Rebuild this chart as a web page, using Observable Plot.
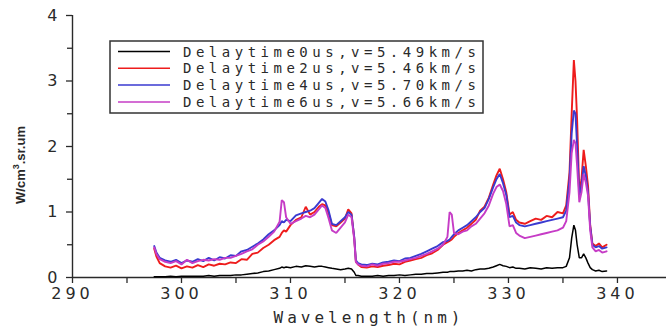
<!DOCTYPE html>
<html><head><meta charset="utf-8">
<script src="https://cdn.jsdelivr.net/npm/d3@7"></script>
<script src="https://cdn.jsdelivr.net/npm/@observablehq/plot@0.6"></script>
<style>
body{margin:0;background:#fff}
#chart{position:relative;width:666px;height:330px}
g[aria-label="x-axis tick label"] text{letter-spacing:4px}
</style>
</head><body><div id="chart"></div>
<script>
// Wavelength grid (nm) shared by all series
const wavelength = [297.5,297.7,298.0,298.5,299.0,299.5,300.0,300.5,301.0,301.5,
302.0,302.5,303.0,303.5,304.0,304.5,305.0,305.5,306.0,306.5,
307.0,307.5,308.0,308.5,309.0,309.2,309.4,309.6,310.0,310.5,
311.0,311.4,311.8,312.2,312.6,312.9,313.2,313.5,313.8,314.2,
314.6,315.0,315.3,315.6,315.85,316.0,316.2,316.5,317.0,317.5,
318.0,318.5,319.0,319.5,320.0,320.5,321.0,321.5,322.0,322.5,
323.0,323.5,324.0,324.4,324.6,324.8,325.0,325.4,325.8,326.2,
326.6,327.0,327.4,327.8,328.2,328.6,328.9,329.2,329.5,329.8,
330.1,330.4,330.7,331.0,331.5,332.0,332.5,333.0,333.5,334.0,
334.5,335.0,335.3,335.6,335.8,336.0,336.15,336.3,336.5,336.7,
336.9,337.1,337.3,337.5,337.7,338.0,338.3,338.6,339.0];

const delay0 = [0.01,0.01,0.01,0.01,0.02,0.01,0.02,0.02,0.02,0.02,
0.02,0.03,0.02,0.03,0.03,0.03,0.04,0.04,0.05,0.06,
0.07,0.09,0.10,0.12,0.14,0.16,0.15,0.16,0.15,0.17,
0.16,0.18,0.17,0.16,0.17,0.17,0.16,0.15,0.14,0.13,
0.12,0.13,0.14,0.13,0.08,0.03,0.03,0.02,0.02,0.02,
0.03,0.02,0.03,0.03,0.04,0.03,0.04,0.05,0.05,0.06,
0.06,0.07,0.08,0.08,0.09,0.09,0.09,0.10,0.10,0.11,
0.10,0.12,0.13,0.13,0.14,0.16,0.18,0.20,0.18,0.17,
0.15,0.16,0.14,0.14,0.13,0.15,0.14,0.13,0.15,0.14,
0.15,0.15,0.17,0.30,0.60,0.80,0.72,0.50,0.30,0.30,
0.36,0.30,0.22,0.15,0.12,0.10,0.11,0.09,0.10];

const delay2 = [0.44,0.32,0.22,0.17,0.15,0.18,0.14,0.17,0.15,0.19,
0.16,0.20,0.18,0.21,0.20,0.23,0.22,0.28,0.27,0.36,
0.38,0.45,0.50,0.57,0.62,0.68,0.72,0.70,0.80,0.88,
0.92,1.08,0.96,1.00,1.08,1.12,1.10,0.98,0.80,0.78,
0.84,0.90,1.04,0.98,0.60,0.24,0.20,0.16,0.15,0.17,
0.16,0.18,0.19,0.21,0.20,0.24,0.26,0.28,0.30,0.34,
0.37,0.42,0.50,0.54,0.56,0.58,0.62,0.68,0.72,0.76,
0.82,0.88,1.02,1.08,1.22,1.42,1.56,1.66,1.50,1.30,
0.96,1.00,0.88,0.84,0.82,0.86,0.90,0.88,0.94,0.92,
1.00,0.98,1.10,1.60,2.50,3.32,3.00,2.40,1.30,1.50,
1.95,1.70,1.40,0.80,0.52,0.48,0.52,0.46,0.50];

const delay4 = [0.48,0.38,0.30,0.26,0.24,0.27,0.22,0.26,0.24,0.28,
0.25,0.30,0.26,0.31,0.29,0.34,0.33,0.40,0.42,0.47,
0.52,0.58,0.66,0.72,0.80,0.86,0.84,0.88,0.86,0.95,
0.98,1.00,1.02,1.06,1.14,1.20,1.16,1.02,0.82,0.80,
0.86,0.92,1.00,0.96,0.62,0.26,0.22,0.20,0.19,0.21,
0.20,0.23,0.24,0.26,0.25,0.29,0.30,0.33,0.36,0.40,
0.44,0.48,0.54,0.56,0.58,0.62,0.66,0.72,0.76,0.80,
0.86,0.92,1.00,1.06,1.20,1.38,1.50,1.58,1.44,1.26,
0.92,0.94,0.84,0.80,0.78,0.80,0.82,0.84,0.86,0.88,
0.90,0.92,1.02,1.50,2.20,2.55,2.50,2.00,1.25,1.40,
1.70,1.55,1.30,0.78,0.50,0.46,0.48,0.44,0.46];

const delay6 = [0.46,0.36,0.28,0.24,0.22,0.25,0.20,0.27,0.22,0.25,
0.27,0.26,0.28,0.27,0.30,0.30,0.33,0.36,0.40,0.43,
0.50,0.55,0.62,0.70,0.85,1.18,1.15,0.92,0.82,0.86,
0.90,0.94,0.92,0.96,1.04,1.10,1.06,0.90,0.72,0.68,
0.76,0.84,0.96,0.92,0.58,0.24,0.20,0.18,0.17,0.20,
0.18,0.21,0.22,0.24,0.24,0.26,0.28,0.30,0.33,0.36,
0.40,0.44,0.50,0.62,1.00,0.96,0.68,0.66,0.70,0.72,
0.78,0.82,0.90,0.98,1.10,1.28,1.38,1.42,1.32,1.12,
0.78,0.80,0.68,0.64,0.60,0.62,0.64,0.66,0.68,0.70,
0.72,0.76,0.86,1.30,1.90,2.10,2.05,1.70,1.15,1.30,
1.58,1.45,1.25,0.72,0.46,0.40,0.42,0.38,0.40];

const seriesNames = ["Delaytime0us,v=5.49km/s","Delaytime2us,v=5.46km/s","Delaytime4us,v=5.70km/s","Delaytime6us,v=5.66km/s"];
const seriesColors = ["#000000","#ee1c1c","#3a3ad0","#c63cc6"];
const seriesValues = [delay0, delay2, delay4, delay6];

const xMajor = [290,300,310,320,330,340];
const xMinor = [295,305,315,325,335];
const yMajor = [0,1,2,3,4];
const yMinor = [0.5,1.5,2.5,3.5];
const xTitle = "Wavelength(nm)";

const lineMarks = seriesValues.map((vals, i) =>
  Plot.line(wavelength.map((w, j) => ({w, v: vals[j]})), {x: "w", y: "v", stroke: seriesColors[i], strokeWidth: i === 0 ? 1.5 : 1.9, strokeLinejoin: "miter"})
);

const chart = Plot.plot({
  width: 666, height: 330,
  marginLeft: 72, marginRight: 0, marginTop: 15, marginBottom: 53,
  style: {fontFamily: "DejaVu Sans", fontSize: "16px", color: "#2a2a2a", background: "#fff"},
  x: {domain: [290, 344.5]},
  y: {domain: [0, 4]},
  marks: [
    Plot.axisX({ticks: xMajor, tickSize: 6, tickPadding: 4, label: null, tickFormat: d => String(d), stroke: "#2a2a2a", strokeWidth: 1.3}),
    Plot.axisX({ticks: xMinor, tickSize: 6, tickFormat: () => "", label: null, stroke: "#2a2a2a", strokeWidth: 1.3}),
    Plot.axisY({ticks: yMajor, tickSize: 6, tickPadding: 9, label: null, tickFormat: d => String(d), stroke: "#2a2a2a", strokeWidth: 1.3}),
    Plot.axisY({ticks: yMinor, tickSize: 5, tickFormat: () => "", label: null, stroke: "#2a2a2a", strokeWidth: 1.3}),
    Plot.ruleY([0], {stroke: "#2a2a2a", strokeWidth: 1.4}),
    Plot.ruleX([290], {stroke: "#2a2a2a", strokeWidth: 1.4}),
    ...lineMarks
  ]
});
document.getElementById("chart").appendChild(chart);

const svg = d3.select(chart);
// x title
svg.append("text")
  .attr("x", (72 + 666) / 2).attr("y", 323)
  .attr("text-anchor", "middle")
  .style("font-family", "DejaVu Sans Mono").style("font-size", "16px")
  .style("letter-spacing", "4px").attr("fill", "#2a2a2a")
  .text(xTitle);
// y title
const yt = svg.append("text")
  .attr("transform", "translate(25,165) rotate(-90)")
  .attr("text-anchor", "middle")
  .style("font-family", "Liberation Sans").style("font-size", "13px").style("font-weight", "bold")
  .attr("fill", "#2a2a2a");
yt.append("tspan").text("W/cm");
yt.append("tspan").attr("dy", -6).style("font-size", "9px").text("3");
yt.append("tspan").attr("dy", 6).text(".sr.um");

// legend
const lg = svg.append("g");
lg.append("rect").attr("x", 110).attr("y", 41).attr("width", 373).attr("height", 72)
  .attr("fill", "#fff").attr("stroke", "#333").attr("stroke-width", 1.5);
seriesNames.forEach((name, i) => {
  const cy = 51.5 + i * 16.8;
  lg.append("line").attr("x1", 118).attr("x2", 170).attr("y1", cy).attr("y2", cy)
    .attr("stroke", seriesColors[i]).attr("stroke-width", 1.5);
  lg.append("text").attr("x", 183).attr("y", cy + 5)
    .attr("text-anchor", "start")
    .style("font-family", "DejaVu Sans Mono").style("font-size", "14px")
    .style("letter-spacing", "4.5px").attr("fill", "#2a2a2a").text(name);
});
</script></body></html>
